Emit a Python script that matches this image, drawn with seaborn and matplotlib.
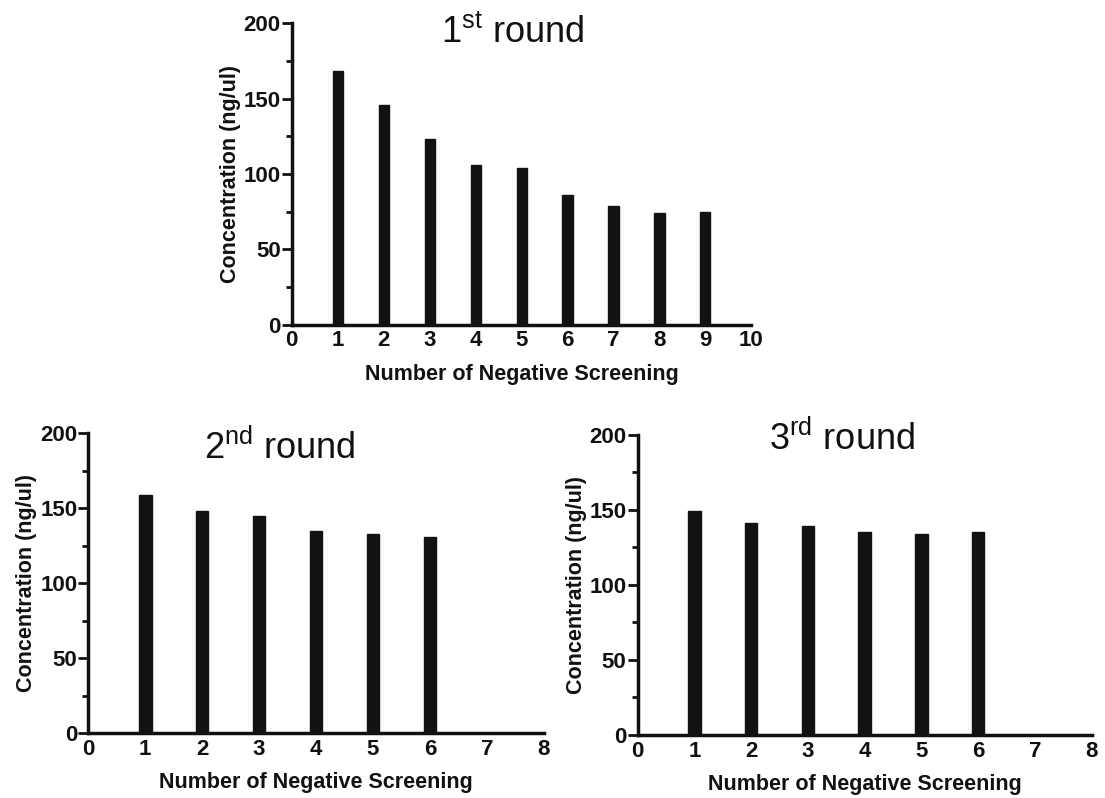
import seaborn as sns
import matplotlib.pyplot as plt
import pandas as pd
from matplotlib.ticker import MultipleLocator

sns.set_style(style='white')
plt.rcParams['font.family'] = ['Liberation Sans', 'DejaVu Sans']
plt.rcParams['mathtext.fontset'] = 'custom'
plt.rcParams['mathtext.rm'] = 'Liberation Sans'
plt.rcParams['text.color'] = '#111111'
plt.rcParams['axes.labelcolor'] = '#111111'
plt.rcParams['xtick.color'] = '#111111'
plt.rcParams['ytick.color'] = '#111111'

# data
screen_r1 = [1, 2, 3, 4, 5, 6, 7, 8, 9]
conc_r1 = [168, 146, 123, 106, 104, 86, 79, 74, 75]
screen_r2 = [1, 2, 3, 4, 5, 6]
conc_r2 = [159, 148, 145, 135, 133, 131]
screen_r3 = [1, 2, 3, 4, 5, 6]
conc_r3 = [149, 141, 139, 135, 134, 135]

titles = [r'1$^{\rm st}$ round', r'2$^{\rm nd}$ round', r'3$^{\rm rd}$ round']
x_max = [10, 8, 8]

fig = plt.figure(figsize=(11.05, 7.98), dpi=100)
axes = [
    fig.add_axes([0.264, 0.593, 0.416, 0.378]),
    fig.add_axes([0.080, 0.081, 0.412, 0.376]),
    fig.add_axes([0.577, 0.079, 0.411, 0.376]),
]
title_pos = [(0.48, 0.965), (0.42, 0.95), (0.45, 0.985)]

for ax, xs, ys, title, xm, (tx, ty) in zip(axes, [screen_r1, screen_r2, screen_r3],
                                           [conc_r1, conc_r2, conc_r3], titles,
                                           x_max, title_pos):
    df = pd.DataFrame({'screen': xs, 'conc': ys})
    sns.barplot(data=df, x='screen', y='conc', native_scale=True, width=0.22,
                color='#141210', saturation=1, edgecolor='#141210', ax=ax)
    ax.set_xlim(0, xm)
    ax.set_ylim(0, 200)
    ax.set_xticks(range(0, xm + 1))
    ax.set_yticks([0, 50, 100, 150, 200])
    ax.yaxis.set_minor_locator(MultipleLocator(25))
    ax.tick_params(axis='x', length=0, pad=4, labelsize=16)
    ax.tick_params(axis='y', which='major', left=True, length=7, width=2,
                   pad=1, labelsize=16)
    ax.tick_params(axis='y', which='minor', left=True, length=4, width=2)
    for lab in ax.get_xticklabels() + ax.get_yticklabels():
        lab.set_fontweight('bold')
    ax.spines['top'].set_visible(False)
    ax.spines['right'].set_visible(False)
    for s in ['left', 'bottom']:
        ax.spines[s].set_linewidth(2.5)
        ax.spines[s].set_color('#111111')
    ax.set_xlabel('Number of Negative Screening', fontsize=15.5,
                  fontweight='bold', labelpad=9)
    ax.set_ylabel('Concentration (ng/ul)', fontsize=15.5,
                  fontweight='bold', labelpad=2)
    ax.text(tx, ty, title, transform=ax.transAxes, ha='center', va='center',
            fontsize=26)

fig.savefig('out.png', dpi=100)
